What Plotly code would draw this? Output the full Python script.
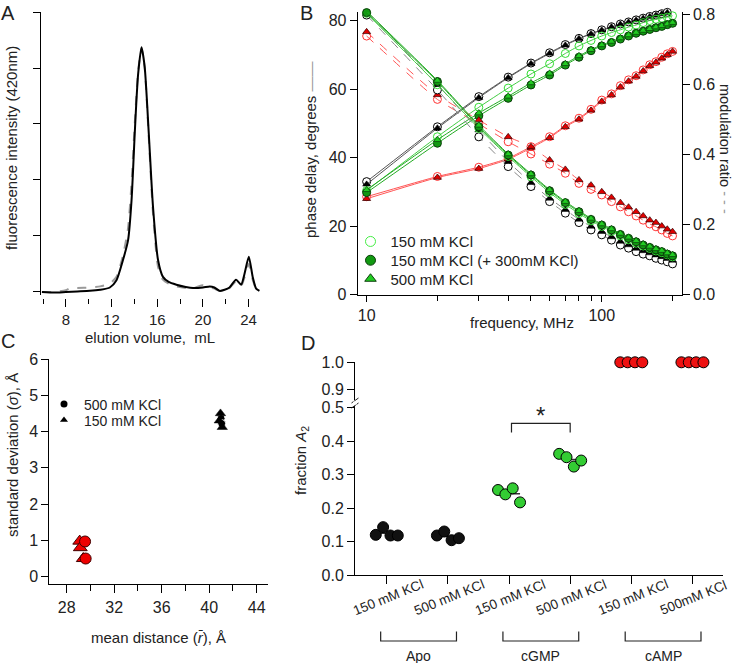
import plotly.graph_objects as go

W, H = 735, 663
FONT = "Liberation Sans, Arial, sans-serif"

# ---------------- panel A : elution profile ----------------
elution_solid = [5.9, 7.0, 8.0, 9.0, 10.1, 11.0, 11.85, 12.43, 13.0, 13.45, 13.75, 14.03, 14.18, 14.33,
                 14.62, 14.9, 15.26, 15.63, 16.07, 16.5, 17.0, 17.68, 18.5, 19.13, 20.0, 20.6, 21.0,
                 21.46, 21.9, 22.33, 22.9, 23.35, 23.64, 24.02, 24.36, 24.66, 24.95]
fluor_solid = [0.0, -0.01, 0.0, 0.01, 0.02, 0.04, 0.08, 0.21, 0.57, 0.93, 1.64, 2.83, 3.43, 3.9,
               4.37, 4.02, 2.83, 1.52, 0.57, 0.27, 0.18, 0.13, 0.09, 0.07, 0.08, 0.1, 0.08,
               0.02, 0.04, 0.08, 0.22, 0.13, 0.32, 0.63, 0.27, 0.06, 0.02]
elution_dash = [5.9, 7.0, 8.0, 8.4, 9.0, 10.1, 11.0, 11.85, 12.43, 13.0, 13.45, 13.75, 14.03, 14.33,
                14.62, 14.9, 15.26, 15.63, 16.07, 16.5, 17.0, 17.68, 18.5, 19.13, 19.6, 20.0, 20.6,
                21.0, 21.46, 21.9, 22.33, 22.9, 23.35, 23.64, 24.02, 24.36, 24.66, 24.95]
fluor_dash = [0.0, 0.0, 0.03, 0.07, 0.07, 0.08, 0.1, 0.15, 0.27, 0.65, 1.15, 1.95, 3.0, 3.95,
              4.35, 4.0, 2.75, 1.4, 0.45, 0.22, 0.15, 0.1, 0.07, 0.06, 0.1, 0.12, 0.08,
              0.06, 0.02, 0.04, 0.07, 0.19, 0.11, 0.26, 0.5, 0.22, 0.06, 0.02]

# ---------------- panel B : frequency domain ----------------
freq_mhz = [10, 20, 30, 40, 50, 60, 70, 80, 90, 100, 110, 120, 130, 140, 150, 160, 170, 180, 190, 200]

phase_black_open = [33.0, 49.0, 57.8, 63.5, 67.6, 70.6, 73.0, 74.8, 76.2, 77.3, 78.2, 79.0, 79.6, 80.2,
                    80.7, 81.2, 81.6, 82.0, 82.4, 83.0]
phase_black_tri = [32.2, 48.6, 57.5, 63.3, 67.4, 70.4, 72.8, 74.7, 76.1, 77.2, 78.1, 78.9, 79.5, 80.1,
                   80.6, 81.1, 81.5, 81.9, 82.3, 82.8]
phase_green_open = [30.4, 46.1, 54.7, 60.3, 64.4, 67.4, 70.4, 72.6, 74.2, 75.5, 76.5, 77.3, 78.1, 78.7,
                    79.4, 80.0, 80.4, 80.7, 81.0, 81.4]
phase_green_fill = [29.8, 44.2, 52.2, 57.3, 61.2, 64.1, 67.0, 69.3, 71.2, 72.6, 73.6, 74.6, 75.5, 76.3,
                    76.9, 77.4, 77.9, 78.3, 78.8, 79.2]
phase_green_tri = [30.6, 45.2, 53.0, 57.9, 61.8, 64.6, 67.4, 69.7, 71.5, 72.9, 73.9, 74.9, 75.8, 76.5,
                   77.1, 77.6, 78.1, 78.5, 79.0, 79.4]
phase_red_open = [28.6, 34.5, 37.2, 39.8, 43.2, 46.1, 49.3, 51.5, 54.1, 56.8, 58.6, 61.0, 62.7, 63.9,
                  65.6, 67.1, 68.0, 69.3, 70.3, 71.0]
phase_red_tri = [28.0, 34.2, 36.8, 39.5, 42.8, 45.8, 49.0, 51.2, 53.8, 56.4, 58.3, 60.6, 62.3, 63.7,
                 65.3, 66.8, 67.8, 69.0, 70.0, 71.0]

mod_black_open = [0.799, 0.585, 0.451, 0.366, 0.309, 0.266, 0.233, 0.206, 0.185, 0.171, 0.156, 0.142,
                  0.133, 0.123, 0.116, 0.111, 0.104, 0.099, 0.094, 0.088]
mod_black_tri = [0.81, 0.60, 0.47, 0.38, 0.32, 0.275, 0.243, 0.215, 0.195, 0.18, 0.165, 0.152, 0.142,
                 0.132, 0.125, 0.119, 0.113, 0.108, 0.103, 0.098]
mod_green_open = [0.804, 0.600, 0.475, 0.395, 0.337, 0.292, 0.258, 0.232, 0.211, 0.195, 0.181, 0.168,
                  0.157, 0.147, 0.139, 0.132, 0.125, 0.120, 0.114, 0.108]
mod_green_fill = [0.806, 0.609, 0.48, 0.399, 0.342, 0.297, 0.263, 0.237, 0.215, 0.199, 0.185, 0.172,
                  0.161, 0.151, 0.142, 0.135, 0.128, 0.123, 0.116, 0.111]
mod_green_tri = [0.81, 0.612, 0.484, 0.402, 0.345, 0.300, 0.266, 0.240, 0.218, 0.202, 0.188, 0.175,
                 0.164, 0.154, 0.145, 0.138, 0.131, 0.126, 0.119, 0.114]
mod_red_open = [0.739, 0.558, 0.488, 0.437, 0.402, 0.373, 0.347, 0.318, 0.301, 0.285, 0.266, 0.251,
                0.237, 0.225, 0.213, 0.202, 0.194, 0.185, 0.175, 0.168]
mod_red_tri = [0.751, 0.571, 0.499, 0.451, 0.423, 0.385, 0.358, 0.328, 0.313, 0.294, 0.278, 0.263,
               0.250, 0.237, 0.225, 0.213, 0.206, 0.196, 0.187, 0.180]

legend_b = ["150 mM KCl", "150 mM KCl (+ 300mM KCl)", "500 mM KCl"]

# ---------------- panel C : distance distributions ----------------
c_red_tri_r = [29.1, 29.15, 29.4]
c_red_tri_sd = [0.98, 0.8, 0.5]
c_red_circ_r = [29.55, 29.6]
c_red_circ_sd = [0.97, 0.5]
c_blk_tri_r = [40.95, 41.1, 40.85]
c_blk_tri_sd = [4.5, 4.12, 4.3]
c_blk_circ_r = [41.0, 41.05]
c_blk_circ_sd = [4.36, 4.22]
legend_c = ["500 mM KCl", "150 mM KCl"]

# ---------------- panel D : fraction A2 ----------------
d_labels = ["150 mM KCl", "500 mM KCl", "150 mM KCl", "500 mM KCl", "150 mM KCl", "500mM KCl"]
d_groups = ["Apo", "cGMP", "cAMP"]
frac_apo_150 = [0.12, 0.143, 0.118, 0.118]
frac_apo_500 = [0.118, 0.13, 0.104, 0.11]
frac_cgmp_150 = [0.254, 0.241, 0.259, 0.217]
frac_cgmp_500 = [0.362, 0.352, 0.324, 0.342]
frac_camp_150 = [1.0, 1.0, 1.0, 1.0]
frac_camp_500 = [1.0, 1.0, 1.0, 1.0]


def px(x):
    return x / W


def py(y):
    return 1 - y / H


def ax(**kw):
    base = dict(showgrid=False, zeroline=False, showline=True, linecolor="black", linewidth=1,
                ticks="outside", tickcolor="black", ticklen=7, tickwidth=1, automargin=False,
                tickfont=dict(size=16, color="#222", family=FONT))
    base.update(kw)
    return base


fig = go.Figure()

# A
fig.add_trace(go.Scatter(x=elution_dash, y=fluor_dash, xaxis="x", yaxis="y", mode="lines",
                         line=dict(color="#9a9a9a", width=2, dash="dash", shape="spline", smoothing=0.6),
                         showlegend=False))
fig.add_trace(go.Scatter(x=elution_solid, y=fluor_solid, xaxis="x", yaxis="y", mode="lines",
                         line=dict(color="black", width=2, shape="spline", smoothing=0.6),
                         showlegend=False))

# B
m_black_open = dict(symbol="circle", size=8, color="white", line=dict(color="black", width=1))
m_black_tri = dict(symbol="triangle-up", size=7, color="black", line=dict(color="black", width=0.5))
m_green_open = dict(symbol="circle", size=8, color="rgba(255,255,255,0)", line=dict(color="#33dd33", width=1))
m_green_fill = dict(symbol="circle", size=8, color="#119911", line=dict(color="#0b3d0b", width=1))
m_green_tri = dict(symbol="triangle-up", size=7, color="#22cc22", line=dict(color="#0b3d0b", width=0.7))
m_red_open = dict(symbol="circle", size=8, color="rgba(255,255,255,0)", line=dict(color="#ff3333", width=1))
m_red_tri = dict(symbol="triangle-up", size=7, color="#e00000", line=dict(color="#300000", width=0.7))

b_series = [
    (phase_red_open, "y2", "#ff5555", "solid", m_red_open),
    (phase_red_tri, "y2", "#ff5555", "solid", m_red_tri),
    (mod_red_open, "y3", "#ff5555", "dash", m_red_open),
    (mod_red_tri, "y3", "#ff5555", "dash", m_red_tri),
    (phase_black_open, "y2", "#555555", "solid", m_black_open),
    (phase_black_tri, "y2", "#555555", "solid", m_black_tri),
    (mod_black_open, "y3", "#888888", "dash", m_black_open),
    (mod_black_tri, "y3", "#888888", "dash", m_black_tri),
    (phase_green_open, "y2", "#44cc44", "solid", m_green_open),
    (mod_green_open, "y3", "#44cc44", "solid", m_green_open),
    (phase_green_fill, "y2", "#22aa22", "solid", m_green_fill),
    (mod_green_fill, "y3", "#22aa22", "solid", m_green_fill),
    (phase_green_tri, "y2", "#22aa22", "solid", m_green_tri),
    (mod_green_tri, "y3", "#22aa22", "solid", m_green_tri),
]
for yv, yax, lc, dash, mk in b_series:
    fig.add_trace(go.Scatter(x=freq_mhz, y=yv, xaxis="x2", yaxis=yax, mode="lines+markers",
                             line=dict(color=lc, width=1, dash=dash, shape="spline", smoothing=0.5),
                             marker=mk, cliponaxis=False, showlegend=False))

# one legend per entry so the rows can sit as close as in the original
leg_markers = [
    dict(symbol="circle", size=10, color="white", line=dict(color="#44ee44", width=1)),
    dict(symbol="circle", size=10, color="#119911", line=dict(color="#0b3d0b", width=1)),
    dict(symbol="triangle-up", size=10, color="#22cc22", line=dict(color="#0b3d0b", width=1)),
]
for k, (name, mk) in enumerate(zip(legend_b, leg_markers)):
    fig.add_trace(go.Scatter(x=[None], y=[None], xaxis="x2", yaxis="y2", mode="markers",
                             marker=mk, name=name, showlegend=True,
                             legend="legend" if k == 0 else f"legend{k + 1}"))

# C
fig.add_trace(go.Scatter(x=c_red_tri_r, y=c_red_tri_sd, xaxis="x3", yaxis="y4", mode="markers",
                         marker=dict(symbol="triangle-up", size=12, color="#ee0000",
                                     line=dict(color="#400000", width=1)), showlegend=False))
fig.add_trace(go.Scatter(x=c_red_circ_r, y=c_red_circ_sd, xaxis="x3", yaxis="y4", mode="markers",
                         marker=dict(symbol="circle", size=11, color="#ee0000",
                                     line=dict(color="#400000", width=1)), showlegend=False))
fig.add_trace(go.Scatter(x=c_blk_circ_r, y=c_blk_circ_sd, xaxis="x3", yaxis="y4", mode="markers",
                         marker=dict(symbol="circle", size=8, color="black",
                                     line=dict(color="white", width=1)), showlegend=False))
fig.add_trace(go.Scatter(x=c_blk_tri_r, y=c_blk_tri_sd, xaxis="x3", yaxis="y4", mode="markers",
                         marker=dict(symbol="triangle-up", size=9, color="black",
                                     line=dict(color="black", width=0.5)), showlegend=False))
for k, (name, sym) in enumerate(zip(legend_c, ["circle", "triangle-up"])):
    fig.add_trace(go.Scatter(x=[None], y=[None], xaxis="x3", yaxis="y4", mode="markers",
                             marker=dict(symbol=sym, size=7, color="black"), name=name,
                             showlegend=True, legend=f"legend{k + 4}"))

# D
jitter = [-0.18, -0.06, 0.06, 0.18]
d_series = [
    (frac_apo_150, "#111111", "y5"),
    (frac_apo_500, "#111111", "y5"),
    (frac_cgmp_150, "#33cc33", "y5"),
    (frac_cgmp_500, "#33cc33", "y5"),
    (frac_camp_150, "#ee1111", "y6"),
    (frac_camp_500, "#ee1111", "y6"),
]
for i, (vals, col, yax) in enumerate(d_series, start=1):
    m = sum(vals) / len(vals)
    fig.add_trace(go.Scatter(x=[i - 0.12, i + 0.18], y=[m, m], xaxis="x4", yaxis=yax, mode="lines",
                             line=dict(color="#333", width=1.5), showlegend=False))
    fig.add_trace(go.Scatter(x=[i + j for j in jitter], y=vals, xaxis="x4", yaxis=yax, mode="markers",
                             marker=dict(symbol="circle", size=11, color=col,
                                         line=dict(color="black", width=1)),
                             cliponaxis=False, showlegend=False))

annotations = []


def label(text, x, y, size=15, angle=0, xanchor="center", yanchor="middle"):
    annotations.append(dict(text=text, x=px(x), y=py(y), xref="paper", yref="paper", showarrow=False,
                            textangle=angle, xanchor=xanchor, yanchor=yanchor,
                            font=dict(size=size, color="#222", family=FONT)))


# panel letters
label("A", 8, 0, size=20, yanchor="top")
label("B", 306, 0, size=20, yanchor="top")
label("C", 8, 328, size=20, yanchor="top")
label("D", 308, 330, size=20, yanchor="top")

# axis titles
label("fluorescence intensity (420nm)", 11, 148, angle=-90)
label("elution volume,  mL", 150, 337)
label("phase delay, degrees <span style='color:#999'>——</span>", 311, 150, angle=-90)
label("frequency, MHz", 522, 322)
label("modulation ratio <span style='color:#999'>- - -</span>", 725, 149, size=14.5, angle=90)
label("standard deviation (<i>σ</i>), Å", 12, 455, angle=-90)
label("mean distance (<i>r̄</i>), Å", 158, 637)
label("fraction <i>A</i><sub>2</sub>", 301, 461, angle=-90)

# panel D category labels and groups
for i, lab in enumerate(d_labels, start=1):
    annotations.append(dict(text=lab, x=i + 0.02, xref="x4", y=py(597), yref="paper", showarrow=False,
                            textangle=-22, xanchor="center", yanchor="middle",
                            font=dict(size=13.5, color="#222", family=FONT)))
shapes = []
for g, name in enumerate(d_groups):
    a, b = 2 * g + 1 - 0.1, 2 * g + 2 + 0.14
    shapes.append(dict(type="path", xref="x4", yref="paper",
                       path=f"M {a},{py(631.5)} L {a},{py(641)} L {b},{py(641)} L {b},{py(631.5)}",
                       line=dict(color="#222", width=1.2)))
    annotations.append(dict(text=name, x=(a + b) / 2, xref="x4", y=py(656), yref="paper",
                            xanchor="center", yanchor="middle",
                            showarrow=False, font=dict(size=14, color="#222", family=FONT)))

# significance bracket
shapes.append(dict(type="path", xref="x4", yref="y5",
                   path="M 3.04,0.426 L 3.04,0.453 L 4.0,0.453 L 4.0,0.426",
                   line=dict(color="#222", width=1.2)))
annotations.append(dict(text="*", x=3.52, xref="x4", y=0.478, yref="y5", showarrow=False,
                        font=dict(size=24, color="#222", family=FONT)))

# axis break marks
for yb in (400.5, 405.5):
    shapes.append(dict(type="line", xref="paper", yref="paper", x0=px(351.5), x1=px(358.5),
                       y0=py(yb + 2.5), y1=py(yb - 2.5), line=dict(color="#222", width=1)))
shapes.append(dict(type="rect", xref="paper", yref="paper", x0=px(353), x1=px(357),
                   y0=py(404.5), y1=py(401.5), fillcolor="white", line=dict(width=0)))


def leg(x, y, size=15):
    return dict(x=px(x), y=py(y), xanchor="left", yanchor="middle", bgcolor="rgba(0,0,0,0)",
                borderwidth=0, font=dict(size=size, family=FONT, color="#222"))


fig.update_layout(
    template="none",
    width=W, height=H,
    margin=dict(l=0, r=0, t=0, b=0, pad=0),
    paper_bgcolor="white", plot_bgcolor="white",
    font=dict(family=FONT, color="#222"),
    showlegend=True,
    legend=leg(350.5, 241.7),
    legend2=leg(350.5, 260.5),
    legend3=leg(350.5, 279),
    legend4=leg(44, 404.5, 14),
    legend5=leg(44, 420.5, 14),
    xaxis=ax(domain=[px(41), px(260)], range=[5.82, 25.0], anchor="free", position=py(298),
             showline=False, tickvals=[8, 12, 16, 20, 24], ticklen=8,
             tickfont=dict(size=15, color="#222", family=FONT),
             minor=dict(tickvals=[6, 10, 14, 18, 22], ticklen=5, ticks="outside", tickcolor="black")),
    yaxis=ax(domain=[py(295), py(12)], range=[-0.054, 5.0], anchor="x",
             tickvals=[0, 1, 2, 3, 4, 5], showticklabels=False),
    xaxis2=ax(domain=[px(357.7), px(681.7)], type="log", range=[0.962, 2.340], anchor="y2",
              tickvals=[10, 100], ticklen=6,
              minor=dict(tickvals=[20, 30, 40, 50, 60, 70, 80, 90, 200], ticklen=5,
                         ticks="outside", tickcolor="black")),
    yaxis2=ax(domain=[py(294.7), py(12)], range=[0, 82.5], anchor="x2", tickvals=[0, 20, 40, 60, 80]),
    yaxis3=ax(overlaying="y2", side="right", anchor="x2", range=[0, 0.8077],
              tickvals=[0, 0.2, 0.4, 0.6, 0.8], tickformat=".1f"),
    xaxis3=ax(domain=[px(49.3), px(268)], range=[26.54, 44.95], anchor="y4",
              tickvals=[28, 32, 36, 40, 44], ticklen=8,
              minor=dict(tickvals=[30, 34, 38, 42], ticklen=6, ticks="outside", tickcolor="black")),
    yaxis4=ax(domain=[py(584.3), py(359)], range=[-0.21, 6.0], anchor="x3",
              tickvals=[0, 1, 2, 3, 4, 5, 6]),
    xaxis4=ax(domain=[px(355), px(723)], range=[0.48, 6.5], anchor="y5",
              tickvals=[1, 2, 3, 4, 5, 6], showticklabels=False, ticklen=8),
    yaxis5=ax(domain=[py(575), py(406)], range=[0, 0.505], anchor="x4",
              tickvals=[0, 0.1, 0.2, 0.3, 0.4, 0.5], tickformat=".1f"),
    yaxis6=ax(domain=[py(400), py(362.3)], range=[0.8604, 1.0], anchor="x4",
              tickvals=[0.9, 1.0], tickformat=".1f"),
    annotations=annotations,
    shapes=shapes,
)

# the page's default body margin would shift the figure; remove it
fig.write_html("out.html", config={"displayModeBar": False},
               post_script="document.body.style.margin='0px';")
